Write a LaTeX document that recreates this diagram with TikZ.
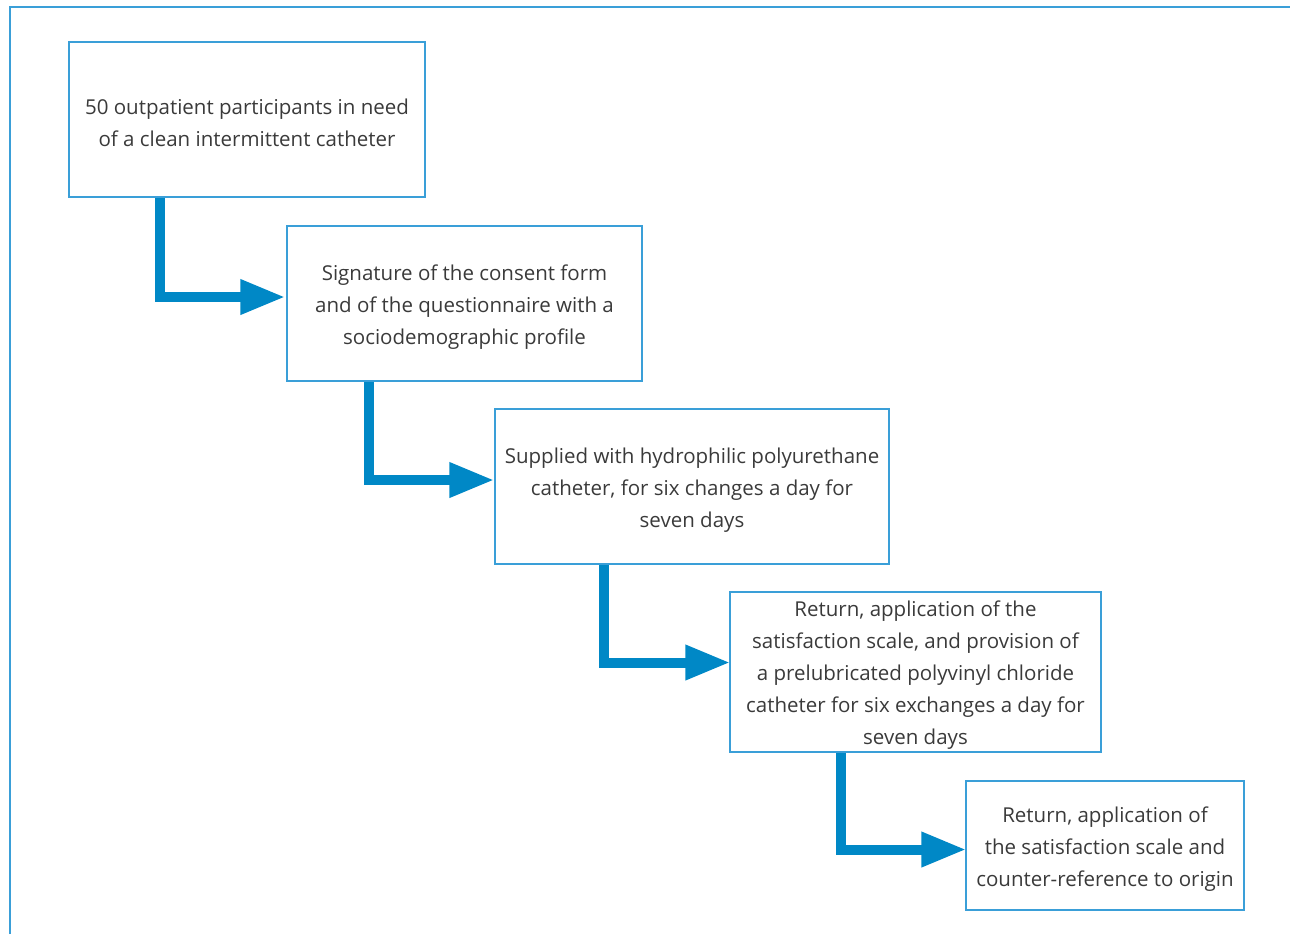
\documentclass[tikz,border=0pt]{standalone}
\usepackage{fontspec}
\setmainfont{Open Sans}
\usetikzlibrary{arrows.meta}
\definecolor{framecol}{HTML}{3A9FD8}
\definecolor{flowcol}{HTML}{0088C6}
\definecolor{txtcol}{HTML}{3A3A3A}
\newcommand{\toplinestrut}{\rule{0pt}{11pt}}
\begin{document}
\begin{tikzpicture}[x=0.5pt,y=-0.5pt,
  stepbox/.style={draw=framecol,line width=0.75pt,rectangle,align=center,inner sep=0pt,
    text=txtcol,font=\fontsize{10.25}{16}\selectfont},
  flowarrow/.style={draw=flowcol,line width=5pt,-{Triangle[length=22.5pt,width=16.5pt]}}]
\useasboundingbox (0,0) rectangle (1290,934);
% outer frame (only left and top edges visible)
\draw[framecol,line width=1pt] (10,934) -- (10,7) -- (1290,7);

\node[stepbox,minimum width=178pt,minimum height=77.5pt] (b1) at (247,119.5)
  {\toplinestrut 50 outpatient participants in need\\of a clean intermittent catheter};
\node[stepbox,minimum width=177.5pt,minimum height=77.5pt] (b2) at (464.5,303.5)
  {\toplinestrut Signature of the consent form\\and of the questionnaire with a\\sociodemographic profile};
\node[stepbox,minimum width=197pt,minimum height=77.5pt] (b3) at (692,486.5)
  {\toplinestrut Supplied with hydrophilic polyurethane\\catheter, for six changes a day for\\seven days};
\node[stepbox,minimum width=185.5pt,minimum height=80pt] (b4) at (915.5,672)
  {\toplinestrut Return, application of the\\satisfaction scale, and provision of\\a prelubricated polyvinyl chloride\\catheter for six exchanges a day for\\seven days};
\node[stepbox,minimum width=139pt,minimum height=64.5pt] (b5) at (1105,845.5)
  {\toplinestrut Return, application of\\the satisfaction scale and\\counter-reference to origin};

\draw[flowarrow] ([xshift=46pt]b1.south west) |- ([xshift=-0.5pt,yshift=3.25pt]b2.west);
\draw[flowarrow] ([xshift=41.5pt]b2.south west) |- ([xshift=0pt,yshift=3.25pt]b3.west);
\draw[flowarrow] ([xshift=54.75pt]b3.south west) |- ([xshift=0.5pt,yshift=4.75pt]b4.west);
\draw[flowarrow] ([xshift=56pt]b4.south west) |- ([xshift=0.5pt,yshift=-2pt]b5.west);
\end{tikzpicture}
\end{document}
